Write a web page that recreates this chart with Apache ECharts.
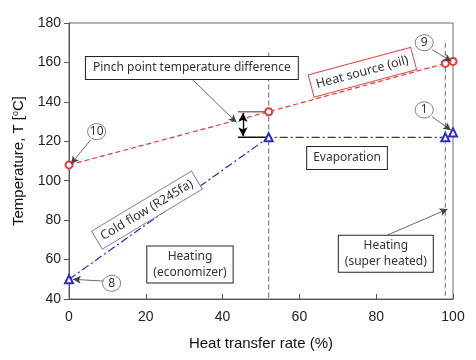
<!DOCTYPE html>
<html><head><meta charset="utf-8">
<script src="https://cdn.jsdelivr.net/npm/echarts@6/dist/echarts.min.js"></script>
<style>html,body{margin:0;padding:0;background:#fff}#c{width:476px;height:360px}</style>
</head><body><div id="c"></div>
<script>
// ---- data ----
const heatRate = [0, 52, 98, 100];              // heat transfer rate (%)
const hotT = [108, 135, 159.5, 160.5];          // heat source (oil) temperature
const coldT = [50, 122, 122, 124.5];            // cold flow (R245fa) temperature
const xTickValues = [0, 20, 40, 60, 80, 100];
const yTickValues = [40, 60, 80, 100, 120, 140, 160, 180];
const dividerX = [52, 98];                      // stage boundaries
const dividerTopT = [165, 170];
const pinchSpanX = [44, 52];
const pinchArrowX = 45.3;
const stateLabels = ['10', '9', '1', '8'];

// ---- annotation layout (data coordinates) ----
const stateCircleAt = [[7.2, 124.9], [92.5, 170.0], [92.5, 135.9], [11.1, 48.0]];
const stateArrows = [
  [[5.6, 120.6], [0.5, 108.5]],
  [[94.6, 166.4], [99.6, 160.6]],
  [[94.6, 132.4], [99.5, 125.6]],
  [[8.8, 49.1], [1.0, 50.0]]
];
const boxArrows = [
  [[32.0, 151.6], [43.6, 129.6]],
  [[83.0, 72.5], [98.6, 85.6]]
];

const font = '"Liberation Sans", Arial, sans-serif';
const afont = '"Noto Sans", "Open Sans", sans-serif';

const chart = echarts.init(document.getElementById('c'), null, {renderer: 'canvas'});

const pts = (ys) => heatRate.map((x, i) => [x, ys[i]]);

chart.setOption({
  animation: false,
  backgroundColor: '#fff',
  grid: {left: 69, right: 23, top: 23, bottom: 61, show: true, borderColor: '#6b6b6b', borderWidth: 1},
  xAxis: {
    type: 'value', min: xTickValues[0], max: xTickValues[xTickValues.length - 1], interval: 20,
    axisLine: {lineStyle: {color: '#555'}},
    axisTick: {inside: true, length: 5, lineStyle: {color: '#555'}},
    splitLine: {show: false},
    axisLabel: {color: '#222', fontFamily: font, fontSize: 14, margin: 11},
    name: 'Heat transfer rate (%)', nameLocation: 'middle', nameGap: 37,
    nameTextStyle: {color: '#111', fontFamily: font, fontSize: 15}
  },
  yAxis: {
    type: 'value', min: yTickValues[0], max: yTickValues[yTickValues.length - 1], interval: 20,
    axisLine: {show: true, lineStyle: {color: '#555'}},
    axisTick: {show: true, inside: false, length: 5, lineStyle: {color: '#555'}},
    splitLine: {show: false},
    axisLabel: {color: '#222', fontFamily: font, fontSize: 14, margin: 8},
    name: 'Temperature, T [{sup|o}C]', nameLocation: 'middle', nameGap: 36,
    nameTextStyle: {color: '#111', fontFamily: font, fontSize: 15,
      rich: {sup: {fontSize: 9, verticalAlign: 'top', padding: [0, 0, 8, 0], fontFamily: font, color: '#111'}}}
  },
  series: [
    {
      name: 'divider', type: 'line', silent: true, symbol: 'none',
      data: [[dividerX[0], dividerTopT[0]], [dividerX[0], yTickValues[0]], null,
             [dividerX[1], dividerTopT[1]], [dividerX[1], yTickValues[0]]],
      connectNulls: false,
      lineStyle: {color: '#808080', width: 1.2, type: [5, 3]}, z: 1
    },
    {
      name: 'pinchTop', type: 'line', silent: true, symbol: 'none',
      data: [[pinchSpanX[0], hotT[1]], [pinchSpanX[1], hotT[1]]],
      lineStyle: {color: '#777', width: 1.5}, z: 2
    },
    {
      name: 'pinchBottom', type: 'line', silent: true, symbol: 'none',
      data: [[pinchSpanX[0], coldT[1]], [pinchSpanX[1], coldT[1]]],
      lineStyle: {color: '#111', width: 1.5}, z: 2,
      markLine: {
        silent: true, symbol: ['arrow', 'arrow'], symbolSize: [7, 9], label: {show: false},
        lineStyle: {color: '#000', width: 1.3, type: 'solid'},
        data: [[{coord: [pinchArrowX, hotT[1] - 0.6]}, {coord: [pinchArrowX, coldT[1] + 0.6]}]]
      }
    },
    {
      name: 'Heat source (oil)', type: 'line', data: pts(hotT),
      symbol: 'emptyCircle', symbolSize: 7,
      itemStyle: {color: '#e63838', borderColor: '#e63838', borderWidth: 1},
      lineStyle: {color: '#e63838', width: 1.2, type: [5, 3]}, z: 3
    },
    {
      name: 'Cold flow (R245fa)', type: 'line', data: pts(coldT),
      symbol: 'emptyTriangle', symbolSize: 8,
      itemStyle: {color: '#2a2ad0', borderColor: '#2a2ad0', borderWidth: 1},
      lineStyle: {color: '#2a2ad0', width: 1.2, type: [8, 3, 2, 3]}, z: 3
    },
    {
      name: 'arrows', type: 'line', data: [], silent: true,
      markLine: {
        silent: true, symbol: ['none', 'arrow'], symbolSize: [6, 8], label: {show: false},
        lineStyle: {color: '#444', width: 0.8, type: 'solid'},
        data: stateArrows.concat(boxArrows).map(a => [{coord: a[0]}, {coord: a[1]}])
      }, z: 5
    }
  ]
});

const P = (p) => chart.convertToPixel({gridIndex: 0}, p);
const g = [];
function box(text, at, opts) {
  const p = P(at);
  g.push({
    type: 'text', x: p[0], y: p[1], rotation: (opts.rot || 0) * Math.PI / 180, z: 10,
    style: {
      text, fill: '#333', font: (opts.size || 12) + 'px ' + afont, align: 'center', verticalAlign: 'middle',
      backgroundColor: '#fff', borderColor: opts.border || '#222', borderWidth: 1,
      padding: opts.pad || [3, 7], lineHeight: 16
    }
  });
}
box('Pinch point temperature difference', [32.0, 157.2], {pad: [3, 7]});
box('Evaporation', [72.4, 111.5], {pad: [3, 6]});
box('Heating\n(economizer)', [31.5, 57.5], {pad: [2, 6]});
box('Heating\n(super heated)', [82.5, 63.0], {pad: [2, 6]});
box('Heat source (oil)', [76.4, 155.0], {rot: 15, border: '#e04848', pad: [3, 5], size: 12.5});
box('Cold flow (R245fa)', [20.3, 85.1], {rot: 31, border: '#7b86a6', pad: [2, 5], size: 12.5});

stateLabels.forEach((t, i) => {
  const p = P(stateCircleAt[i]);
  g.push({type: 'ellipse', z: 10, shape: {cx: p[0], cy: p[1], rx: 9, ry: 8},
    style: {fill: '#fff', stroke: '#6f7f9c', lineWidth: 1}});
  g.push({type: 'text', z: 11, x: p[0], y: p[1],
    style: {text: t, fill: '#333', font: '12px ' + afont, align: 'center', verticalAlign: 'middle'}});
});
chart.setOption({graphic: g});
</script></body></html>
